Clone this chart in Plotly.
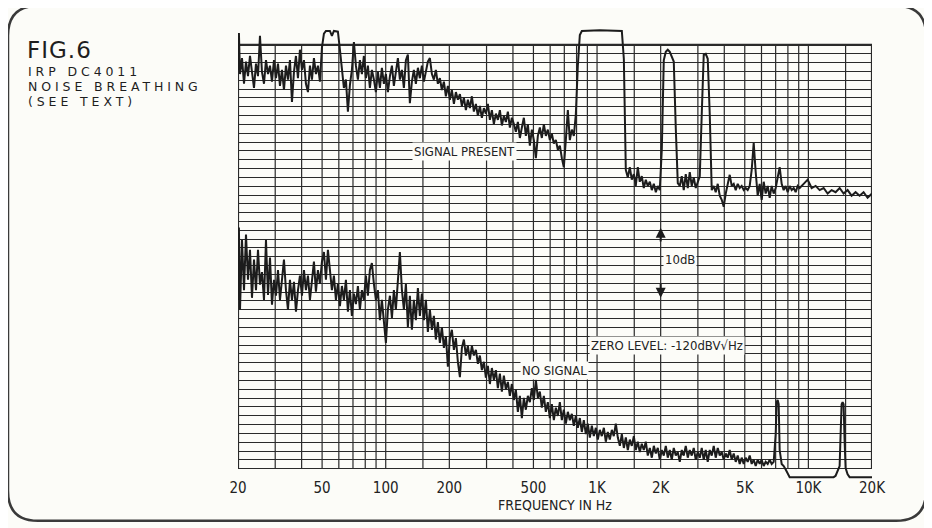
import numpy as np
import plotly.graph_objects as go

# ---------------- data ----------------
TICK_VALS = [20, 50, 100, 200, 500, 1000, 2000, 5000, 10000, 20000]
TICK_TEXT = ["20", "50", "100", "200", "500", "1K", "2K", "5K", "10K", "20K"]
GRID_FREQS = [20, 30, 40, 50, 60, 70, 80, 90, 100, 150, 200, 300, 400, 500, 600, 700,
              800, 900, 1000, 1500, 2000, 3000, 4000, 5000, 6000, 7000, 8000, 9000,
              10000, 15000, 20000]
GRID_BOTTOM = -1.0     # relative dB at the bottom line of the graph paper
GRID_TOP = 60.0        # relative dB at the top line of the graph paper
GRID_DIVS = 48         # horizontal divisions

# "SIGNAL PRESENT" trace (frequency Hz, relative level dB)
SIG_F = [20.0, 20.2, 20.44, 20.89, 21.35, 21.82, 22.30, 22.79, 23.29, 23.81, 24.33, 24.87,
         25.41, 25.97, 26.55, 27.13, 27.73, 28.34, 28.96, 29.60, 30.25, 30.92, 31.60, 32.29,
         33.00, 33.73, 34.47, 35.23, 36.01, 36.80, 37.61, 38.44, 39.28, 40.15, 41.03, 41.93,
         42.86, 43.80, 44.76, 45.75, 46.75, 47.78, 48.83, 49.91, 51.01, 52.13, 54.45, 55.65,
         56.87, 59.40, 60.71, 62.05, 63.41, 64.81, 66.24, 67.69, 69.18, 70.71, 72.27, 73.86,
         75.48, 77.15, 78.84, 80.58, 82.35, 84.17, 86.02, 87.92, 89.85, 91.83, 93.85, 95.92,
         98.03, 100.2, 102.4, 104.7, 107.0, 109.3, 111.7, 114.2, 116.7, 119.3, 121.9, 124.6,
         127.3, 130.1, 133.0, 135.9, 138.9, 142.0, 145.1, 148.3, 151.6, 154.9, 158.3, 161.8,
         165.4, 169.0, 172.7, 176.5, 180.4, 184.4, 188.5, 192.6, 196.9, 201.2, 205.6, 210.2,
         214.8, 219.5, 224.4, 229.3, 234.4, 239.5, 244.8, 250.2, 255.7, 261.3, 267.1, 273.0,
         279.0, 285.1, 291.4, 297.8, 304.4, 311.1, 317.9, 324.9, 332.1, 339.4, 346.9, 354.5,
         362.3, 370.3, 378.4, 386.8, 395.3, 404.0, 412.9, 422.0, 431.3, 440.8, 450.5, 460.4,
         470.5, 480.9, 491.5, 502.3, 513.4, 524.7, 536.2, 548.0, 560.1, 572.4, 585.0, 597.9,
         611.1, 624.5, 638.3, 652.3, 666.7, 681.4, 696.4, 711.7, 727.4, 743.4, 759.8, 776.5,
         793.6, 811.1, 828.9, 847.2, 1031, 1310, 1339, 1368, 1398, 1429, 1460, 1493,
         1525, 1559, 1593, 1628, 1664, 1701, 1738, 1777, 1816, 1856, 1897, 1938,
         1981, 2025, 2069, 2115, 2161, 2209, 2257, 2307, 2358, 2410, 2463, 2517,
         2572, 2629, 2687, 2746, 2806, 2868, 2931, 2996, 3062, 3129, 3198, 3268,
         3340, 3414, 3489, 3566, 3644, 3725, 3807, 3890, 3976, 4063, 4153, 4244,
         4338, 4433, 4531, 4630, 4732, 4836, 4943, 5051, 5162, 5276, 5392, 5511,
         5632, 5756, 5883, 6012, 6145, 6280, 6418, 6560, 6704, 6852, 7003, 7157,
         7314, 7475, 7640, 7808, 7980, 8155, 8335, 8518, 8706, 8897, 9093, 9498,
         9920, 10362, 10823, 11305, 11808, 12333, 12882, 13455, 14054, 14679, 15332, 16014,
         16727, 17471, 18249, 19060, 20000]
SIG_DB = [56.4, 61.7, 55.8, 58.1, 54.4, 57.6, 55.5, 58.4, 56.1, 53.8, 57.3, 55.5,
          61.3, 56.1, 54.4, 57.8, 55.8, 57.0, 54.7, 57.8, 55.2, 57.3, 54.1, 56.4,
          53.5, 57.0, 55.0, 57.8, 51.8, 56.1, 58.4, 55.2, 59.3, 56.4, 57.8, 54.4,
          53.2, 57.0, 55.0, 58.1, 55.8, 57.0, 54.7, 59.6, 61.6, 62.0, 62.0, 61.3,
          62.0, 61.9, 59.3, 56.4, 53.8, 55.0, 50.4, 54.2, 56.4, 60.4, 57.0, 55.0,
          57.8, 55.8, 58.4, 55.2, 57.0, 53.8, 56.4, 55.0, 53.2, 56.1, 53.8, 56.7,
          54.4, 55.8, 53.2, 55.5, 57.0, 54.1, 56.1, 58.1, 55.0, 56.4, 53.8, 57.8,
          58.6, 51.6, 54.7, 56.4, 54.4, 56.7, 55.2, 57.0, 54.7, 56.4, 57.6, 58.1,
          55.8, 55.0, 56.4, 54.4, 55.2, 53.5, 54.7, 52.6, 54.1, 52.1, 53.5, 51.5,
          53.2, 52.1, 52.9, 51.2, 52.4, 50.6, 52.1, 50.9, 52.6, 50.4, 51.5, 49.8,
          51.2, 49.5, 50.9, 50.1, 51.5, 49.2, 50.6, 48.6, 50.1, 49.2, 50.6, 48.4,
          49.8, 48.9, 50.4, 48.1, 49.5, 48.6, 47.5, 48.9, 46.6, 48.1, 49.5, 46.9,
          48.6, 45.5, 47.8, 46.3, 43.7, 46.9, 48.1, 46.6, 48.6, 46.9, 47.8, 46.3,
          47.2, 45.8, 46.3, 44.9, 45.5, 43.7, 42.4, 46.3, 50.6, 46.3, 47.8, 46.9,
          50.0, 57.0, 61.4, 62.0, 62.1, 62.0, 58.0, 42.0, 40.9, 42.4, 40.6, 41.4,
          39.7, 42.4, 40.3, 41.1, 39.4, 40.6, 39.7, 40.3, 39.1, 40.0, 38.8, 39.7,
          39.1, 45.0, 57.8, 59.0, 59.3, 59.0, 58.4, 57.6, 48.0, 40.1, 39.7, 41.1,
          39.1, 41.4, 39.4, 41.7, 39.7, 40.9, 39.4, 40.3, 41.1, 50.0, 58.6, 58.7,
          58.0, 50.0, 39.1, 39.7, 38.8, 40.0, 38.3, 37.7, 36.7, 38.6, 40.0, 41.3,
          39.7, 40.0, 39.1, 40.0, 39.4, 39.7, 39.1, 39.4, 39.1, 39.7, 42.0, 45.9,
          41.7, 38.3, 40.0, 37.7, 40.3, 38.6, 39.7, 38.0, 39.7, 38.6, 39.4, 40.9,
          42.4, 40.0, 39.1, 39.7, 38.8, 39.7, 39.1, 39.4, 38.8, 39.7, 39.4, 40.0,
          40.6, 39.4, 39.7, 39.1, 39.4, 38.6, 39.1, 38.8, 39.4, 38.6, 39.1, 38.3,
          38.8, 38.3, 38.8, 38.0, 38.6]

# "NO SIGNAL" trace (frequency Hz, relative level dB)
NOSIG_F = [20.0, 20.2, 20.44, 20.89, 21.35, 21.82, 22.30, 22.79, 23.29, 23.81, 24.33, 24.87,
           25.41, 25.97, 26.55, 27.13, 27.73, 28.34, 28.96, 29.60, 30.25, 30.92, 31.60, 32.29,
           33.00, 33.73, 34.47, 35.23, 36.01, 36.80, 37.61, 38.44, 39.28, 40.15, 41.03, 41.93,
           42.86, 43.80, 44.76, 45.75, 46.75, 47.78, 48.83, 49.91, 51.01, 52.13, 53.28, 54.45,
           55.65, 56.87, 58.12, 59.40, 60.71, 62.05, 63.41, 64.81, 66.24, 67.69, 69.18, 70.71,
           72.27, 73.86, 75.48, 77.15, 78.84, 80.58, 82.35, 84.17, 86.02, 87.92, 89.85, 91.83,
           93.85, 95.92, 98.03, 100.2, 102.4, 104.7, 107.0, 109.3, 111.7, 114.2, 116.7, 119.3,
           121.9, 124.6, 127.3, 130.1, 133.0, 135.9, 138.9, 142.0, 145.1, 148.3, 151.6, 154.9,
           158.3, 161.8, 165.4, 169.0, 172.7, 176.5, 180.4, 184.4, 188.5, 192.6, 196.9, 201.2,
           205.6, 210.2, 214.8, 219.5, 224.4, 229.3, 234.4, 239.5, 244.8, 250.2, 255.7, 261.3,
           267.1, 273.0, 279.0, 285.1, 291.4, 297.8, 304.4, 311.1, 317.9, 324.9, 332.1, 339.4,
           346.9, 354.5, 362.3, 370.3, 378.4, 386.8, 395.3, 404.0, 412.9, 422.0, 431.3, 440.8,
           450.5, 460.4, 470.5, 480.9, 491.5, 502.3, 513.4, 524.7, 536.2, 548.0, 560.1, 572.4,
           585.0, 597.9, 611.1, 624.5, 638.3, 652.3, 666.7, 681.4, 696.4, 711.7, 727.4, 743.4,
           759.8, 776.5, 793.6, 811.1, 828.9, 847.2, 865.8, 884.9, 904.4, 924.3, 944.6, 965.4,
           986.7, 1008, 1031, 1053, 1077, 1100, 1124, 1149, 1175, 1200, 1227, 1254,
           1282, 1310, 1339, 1368, 1398, 1429, 1460, 1493, 1525, 1559, 1593, 1628,
           1664, 1701, 1738, 1777, 1816, 1856, 1897, 1938, 1981, 2025, 2069, 2115,
           2161, 2209, 2257, 2307, 2358, 2410, 2463, 2517, 2572, 2629, 2687, 2746,
           2806, 2868, 2931, 2996, 3062, 3129, 3198, 3268, 3340, 3414, 3489, 3566,
           3644, 3725, 3807, 3890, 3976, 4063, 4153, 4244, 4338, 4433, 4531, 4630,
           4732, 4836, 4943, 5051, 5162, 5276, 5392, 5511, 5632, 5756, 5883, 6012,
           6145, 6280, 6418, 6560, 6704, 6852, 7003, 7080, 7157, 7235, 7314, 7475,
           7640, 7808, 7980, 8155, 9093, 11305, 13166, 13455, 13751, 14054, 14208, 14363,
           14520, 14679, 14840, 15002, 15332, 15670, 20000]
NOSIG_DB = [23.3, 33.7, 21.9, 31.9, 24.7, 32.7, 26.2, 30.5, 23.6, 29.1, 24.7, 30.5,
            25.5, 27.3, 23.3, 31.9, 24.0, 29.4, 22.6, 26.2, 23.9, 27.6, 23.3, 26.5,
            29.1, 24.7, 21.9, 26.2, 23.3, 25.9, 21.6, 24.7, 26.8, 23.9, 27.6, 24.7,
            26.8, 23.3, 26.2, 28.8, 24.5, 27.6, 25.6, 28.8, 30.2, 26.2, 30.5, 27.6,
            24.7, 26.8, 23.3, 25.6, 22.4, 25.3, 23.3, 26.2, 21.6, 24.7, 21.0, 24.2,
            22.7, 25.3, 21.9, 24.7, 23.3, 26.8, 23.9, 27.6, 28.6, 25.6, 23.3, 24.7,
            20.4, 23.3, 19.7, 17.1, 21.9, 23.9, 20.7, 24.7, 21.9, 26.2, 30.2, 24.7,
            21.9, 25.6, 19.4, 23.9, 19.0, 23.3, 20.4, 25.0, 21.0, 24.2, 20.4, 23.3,
            18.7, 21.9, 19.0, 21.0, 17.6, 20.1, 17.1, 19.4, 16.4, 18.1, 13.7, 17.8,
            19.0, 16.1, 17.8, 14.4, 12.2, 16.4, 17.6, 15.3, 16.7, 14.7, 16.7, 15.3,
            16.1, 14.1, 15.3, 13.2, 14.4, 12.1, 13.8, 11.2, 13.5, 11.8, 13.2, 10.6,
            12.7, 10.1, 12.4, 10.4, 11.5, 9.5, 11.2, 8.9, 10.4, 7.2, 9.5, 6.3,
            9.2, 7.5, 9.5, 8.6, 10.6, 8.9, 11.8, 9.2, 10.1, 7.8, 9.5, 7.2,
            8.6, 6.3, 8.3, 6.0, 7.8, 6.6, 8.6, 6.0, 7.5, 5.5, 7.2, 6.0,
            6.9, 5.2, 6.6, 4.9, 6.3, 4.3, 6.0, 4.0, 5.5, 3.5, 5.2, 3.7,
            4.9, 3.2, 4.6, 3.7, 4.9, 2.9, 4.3, 3.2, 4.6, 3.7, 5.5, 3.5,
            2.3, 4.0, 2.0, 3.5, 1.7, 3.2, 2.3, 3.7, 1.7, 2.9, 1.4, 2.6,
            1.7, 2.9, 0.9, 2.0, 0.6, 2.3, 1.2, 2.0, 0.3, 1.7, 0.9, 2.3,
            0.6, 1.7, 0.3, 2.0, 0.9, 1.4, 0.0, 1.7, 0.9, 2.3, 0.6, 1.7,
            0.9, 2.0, 0.3, 1.4, 0.6, 2.0, 0.3, 1.7, 0.0, 1.7, 0.9, 2.3,
            0.6, 2.0, 0.9, 1.4, 0.3, 1.2, 0.6, 1.7, 0.3, 1.2, 0.0, 0.9,
            -0.3, 0.6, -0.3, 0.6, 0.0, 0.9, -0.3, 0.3, -0.6, 0.3, -0.3, 0.3,
            -0.6, 0.0, -0.3, 0.3, -0.3, 0.0, 4.0, 8.6, 8.9, 8.3, 1.7, -0.3,
            -0.6, -1.1, -1.7, -2.2, -2.2, -2.2, -2.2, -2.0, -1.4, -0.6, 4.0, 8.3,
            8.6, 8.3, 3.0, -0.9, -1.8, -2.2, -2.2]

TITLE = "FIG.6"
SUBTITLE_LINES = ["IRP DC4011", "NOISE BREATHING", "(SEE TEXT)"]

# ---------------- layout geometry ----------------
# page pixel positions (the page is drawn with an 8px body margin)
OFF = 8
W, H = 932 - OFF, 528 - OFF
Y_RANGE = [-2.9, 63.0]
PL, PR = 238, 872                     # plot left/right on the page
PT, PB = 462 - 6.95 * Y_RANGE[1], 462 - 6.95 * Y_RANGE[0]   # plot top/bottom on the page
INK = "#1c1c1c"
GRIDC = "#2a2a2a"
PAPER = "#fcfcf8"
COND = "Liberation Sans Narrow, DejaVu Sans Condensed, Arial Narrow, sans-serif"
TITLE_FONT = "DejaVu Sans, Liberation Sans, sans-serif"


def xp(px):
    return (px - PL) / (PR - PL)


def yp(py):
    return (PB - py) / (PB - PT)


fig = go.Figure()
for f, db in ((SIG_F, SIG_DB), (NOSIG_F, NOSIG_DB)):
    fig.add_trace(go.Scatter(x=f, y=db, mode="lines",
                             line=dict(color=INK, width=2.0), showlegend=False,
                             hoverinfo="skip"))

# vertical grid of the graph paper
for gf in GRID_FREQS:
    edge = gf in (GRID_FREQS[0], GRID_FREQS[-1])
    fig.add_shape(type="line", xref="x", yref="y", x0=gf, x1=gf, y0=GRID_BOTTOM, y1=GRID_TOP,
                  line=dict(color=GRIDC, width=2.2 if edge else 1.2), layer="below")
fig.add_shape(type="line", xref="x", yref="y", x0=GRID_FREQS[0], x1=GRID_FREQS[-1],
              y0=GRID_TOP, y1=GRID_TOP, line=dict(color=GRIDC, width=2.2), layer="below")

# rounded border of the figure
L, R, T, B, rad = 8, 926, 6, 521, 30
path = (f"M {xp(L + rad)},{yp(T)} L {xp(R - rad)},{yp(T)} Q {xp(R)},{yp(T)} {xp(R)},{yp(T + rad)} "
        f"L {xp(R)},{yp(B - rad)} Q {xp(R)},{yp(B)} {xp(R - rad)},{yp(B)} "
        f"L {xp(L + rad)},{yp(B)} Q {xp(L)},{yp(B)} {xp(L)},{yp(B - rad)} "
        f"L {xp(L)},{yp(T + rad)} Q {xp(L)},{yp(T)} {xp(L + rad)},{yp(T)} Z")
fig.add_shape(type="path", xref="paper", yref="paper", path=path,
              line=dict(color="#3a3a3a", width=2.5))

# title block (stacked so the text boxes just touch)
fig.add_annotation(text=f'<span style="letter-spacing:1px">{TITLE}</span>',
                   xref="paper", yref="paper", x=xp(26), y=yp(36),
                   xanchor="left", yanchor="top", showarrow=False, borderpad=0,
                   font=dict(family=TITLE_FONT, size=23, color="#1e1e1e"))
for i, s in enumerate(SUBTITLE_LINES):
    fig.add_annotation(text=f'<span style="letter-spacing:3.9px">{s}</span>',
                       xref="paper", yref="paper", x=xp(27), y=yp(63.5 + 14.7 * i),
                       xanchor="left", yanchor="top", showarrow=False, borderpad=0,
                       font=dict(family=TITLE_FONT, size=12.5, color="#1e1e1e"))

# in-chart labels
labels = [("SIGNAL PRESENT", 235, 44.6), ("NO SIGNAL", 626, 13.2),
          ("ZERO LEVEL: -120dBV√Hz", 2144, 16.8), ("10dB", 2470, 29.1)]
for txt, f, db in labels:
    fig.add_annotation(text=txt, x=np.log10(f), y=db, xref="x", yref="y", showarrow=False,
                       bgcolor=PAPER, borderpad=1,
                       font=dict(family=COND, size=13, color="#222222"))

# 10 dB scale markers
for tip, tail in ((33.7, 31.5), (23.6, 25.8)):
    fig.add_annotation(x=np.log10(2000), y=tip, ax=np.log10(2000), ay=tail, xref="x", yref="y",
                       axref="x", ayref="y", text="", showarrow=True, arrowhead=2,
                       arrowsize=1, arrowwidth=2, arrowcolor=INK)

fig.update_layout(
    width=W, height=H,
    margin=dict(l=PL - OFF, r=W - (PR - OFF), t=PT - OFF, b=H - (PB - OFF)),
    paper_bgcolor=PAPER, plot_bgcolor=PAPER, showlegend=False,
    xaxis=dict(type="log", range=[np.log10(20), np.log10(20000)], tickvals=TICK_VALS,
               ticktext=TICK_TEXT, showgrid=False, zeroline=False, showline=False, ticks="",
               ticklabelstandoff=-5,
               tickfont=dict(family=COND, size=15, color="#222222"),
               title=dict(text="FREQUENCY IN Hz", standoff=4,
                          font=dict(family=COND, size=14, color="#222222"))),
    yaxis=dict(range=Y_RANGE,
               tickvals=[GRID_BOTTOM + k * (GRID_TOP - GRID_BOTTOM) / GRID_DIVS
                         for k in range(GRID_DIVS + 1)],
               showticklabels=False, showgrid=True, gridcolor=GRIDC, gridwidth=1.1,
               zeroline=False, showline=False, ticks=""),
)

fig.write_html("out.html")
